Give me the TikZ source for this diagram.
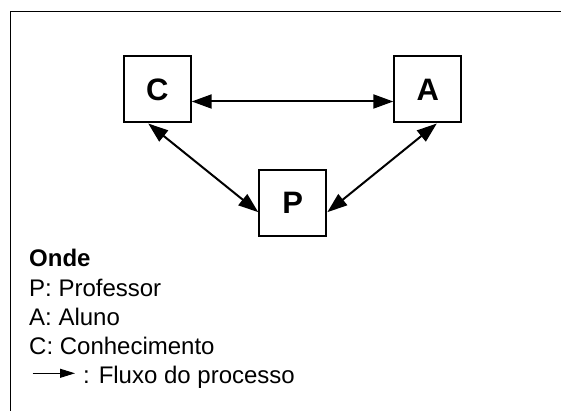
\documentclass[tikz,border=0pt]{standalone}
\usepackage{fontspec}
\setmainfont{Liberation Sans}
\usetikzlibrary{arrows.meta}

\begin{document}
\begin{tikzpicture}[x=1pt,y=1pt,
    box/.style={draw, line width=2pt, minimum width=67pt, minimum height=66pt,
                inner sep=0pt, font=\bfseries\fontsize{31}{31}\selectfont},
    fluxo/.style={line width=2pt,
                  {Triangle[length=20pt,width=14pt]}-{Triangle[length=20pt,width=14pt]}},
    legenda/.style={anchor=base west, inner sep=0pt, font=\fontsize{24}{24}\selectfont}]
   \def\desvio{12pt}
   \def\lado{9pt}
   \useasboundingbox (0,0) rectangle (561,411);
   % moldura (so aparecem a esquerda e em cima)
   \draw[line width=1.3pt] (10.5,0) -- (10.5,399.5) -- (561,399.5);
   % os tres blocos
   \node[box] (C) at (157.2,321.5) {C};
   \node[box] (A) at (427.8,321.5) {A};
   \node[box] (P) at (292.8,207.8) {P};
   % setas
   \draw[fluxo] ([yshift=-\desvio]C.east) -- ([yshift=-\desvio]A.west);
   \draw[fluxo] ([xshift=-\lado]C.south) -- ([yshift=-\lado]P.west);
   \draw[fluxo] ([xshift=\lado]A.south) -- ([yshift=-\lado]P.east);
   % legenda
   \node[legenda] (onde) at (29,144) {\bfseries Onde};
   \node[legenda] (prof) at (29,114) {P: Professor};
   \node[legenda] (aluno) at (29,85) {A: Aluno};
   \node[legenda] (conh) at (29,56) {C: Conhecimento};
   \coordinate (ini) at (32.7,37.7);
   \coordinate (fim) at (75,37.7);
   \draw[line width=1pt, -{Triangle[length=15pt,width=9pt]}] (ini) -- (fim);
   \node[legenda] (proc) at (83,27) {: Fluxo do processo};
\end{tikzpicture}
\end{document}
